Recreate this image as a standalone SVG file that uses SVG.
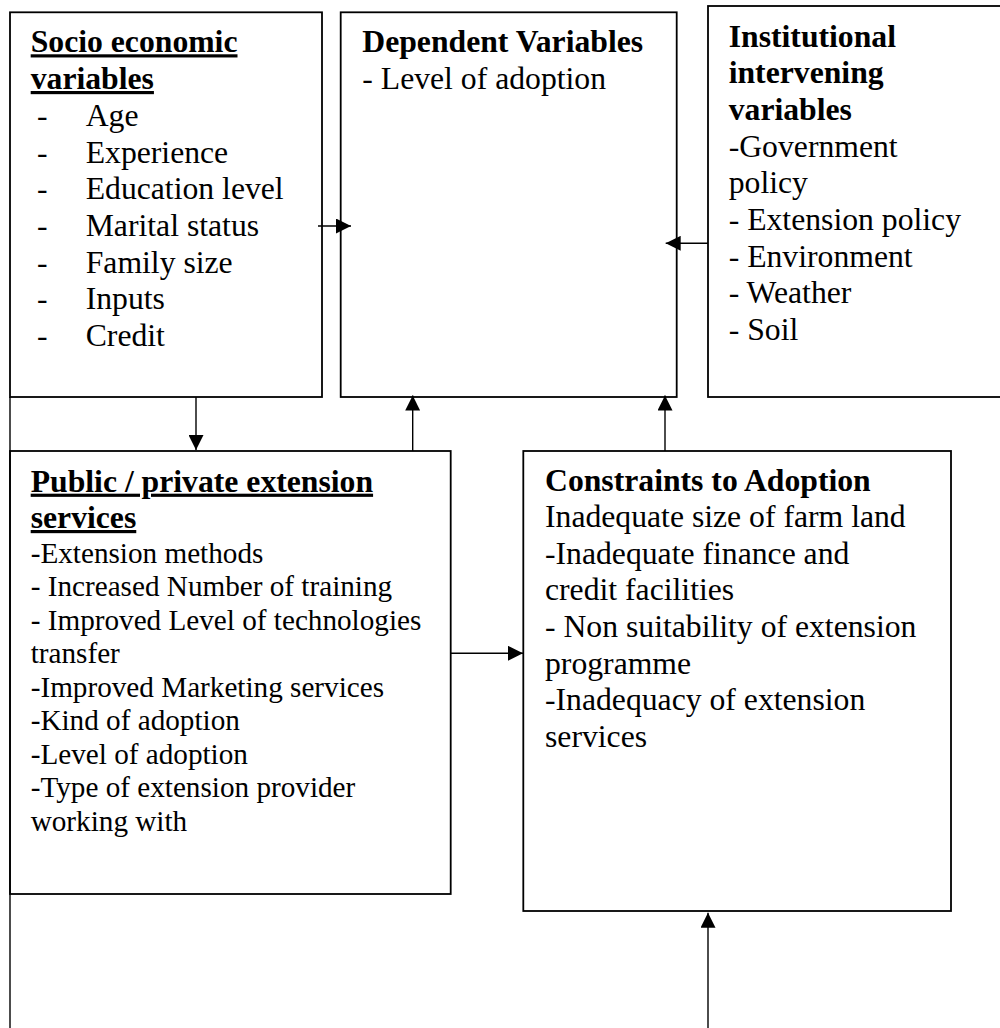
<svg xmlns="http://www.w3.org/2000/svg" width="1000" height="1028" viewBox="0 0 1000 1028">
<style>
.box{fill:#fff;stroke:#000;stroke-width:1.8}
.t{font-family:"Liberation Serif","Times New Roman",serif;font-size:31.7px;fill:#000}
.s{font-size:29.2px}
.b{font-weight:bold}
.u{text-decoration:underline;text-decoration-thickness:3px}
.c{fill:none;stroke:#000;stroke-width:1.4}
.a{marker-end:url(#ah)}
</style>
<defs>
<marker id="ah" viewBox="0 0 16 16" refX="16" refY="8" markerWidth="16" markerHeight="15" markerUnits="userSpaceOnUse" orient="auto">
<path d="M0,0 L16,8 L0,16 Z" fill="#000"/>
</marker>
</defs>
<rect width="1000" height="1028" fill="#fff"/>

<g id="socio">
<rect class="box" x="10" y="12.3" width="312" height="384.7"/>
<text class="t b u" x="30.7" y="52.3">Socio economic</text>
<text class="t b u" x="30.7" y="89">variables</text>
<g class="t">
<text x="37" y="126">-</text><text x="85.7" y="126">Age</text>
<text x="37" y="162.7">-</text><text x="85.7" y="162.7">Experience</text>
<text x="37" y="199.3">-</text><text x="85.7" y="199.3">Education level</text>
<text x="37" y="236">-</text><text x="85.7" y="236">Marital status</text>
<text x="37" y="272.7">-</text><text x="85.7" y="272.7">Family size</text>
<text x="37" y="309.3">-</text><text x="85.7" y="309.3">Inputs</text>
<text x="37" y="346">-</text><text x="85.7" y="346">Credit</text>
</g>
</g>

<g id="dependent">
<rect class="box" x="340.7" y="12.3" width="336" height="384.7"/>
<text class="t b" x="362.3" y="52.3">Dependent Variables</text>
<text class="t" x="362.3" y="89">- Level of adoption</text>
</g>

<g id="institutional">
<rect class="box" x="708" y="6" width="296" height="391"/>
<text class="t b" x="728.7" y="46.7">Institutional</text>
<text class="t b" x="728.7" y="83.3">intervening</text>
<text class="t b" x="728.7" y="120">variables</text>
<text class="t" x="728.7" y="156.7">-Government</text>
<text class="t" x="728.7" y="193.3">policy</text>
<text class="t" x="728.7" y="230">- Extension policy</text>
<text class="t" x="728.7" y="266.7">- Environment</text>
<text class="t" x="728.7" y="303.3">- Weather</text>
<text class="t" x="728.7" y="340">- Soil</text>
</g>

<g id="public">
<rect class="box" x="10" y="451" width="440.7" height="443"/>
<text class="t b u" x="30.7" y="491.7">Public / private extension</text>
<text class="t b u" x="30.7" y="528">services</text>
<g class="t s">
<text x="30.7" y="562.7">-Extension methods</text>
<text x="30.7" y="596.2">- Increased Number of training</text>
<text x="30.7" y="629.7">- Improved Level of technologies</text>
<text x="30.7" y="663.2">transfer</text>
<text x="30.7" y="696.7">-Improved Marketing services</text>
<text x="30.7" y="730.2">-Kind of adoption</text>
<text x="30.7" y="763.7">-Level of adoption</text>
<text x="30.7" y="797.2">-Type of extension provider</text>
<text x="30.7" y="830.7">working with</text>
</g>
</g>

<g id="constraints">
<rect class="box" x="523.3" y="451" width="427.7" height="460"/>
<text class="t b" x="545" y="490.7">Constraints to Adoption</text>
<text class="t" x="545" y="527">Inadequate size of farm land</text>
<text class="t" x="545" y="563.7">-Inadequate finance and</text>
<text class="t" x="545" y="600.3">credit facilities</text>
<text class="t" x="545" y="637">- Non suitability of extension</text>
<text class="t" x="545" y="673.7">programme</text>
<text class="t" x="545" y="710.3">-Inadequacy of extension</text>
<text class="t" x="545" y="747">services</text>
</g>

<g id="connectors">
<path class="c" d="M10,397 L10,1028"/>
<path class="c a" d="M318,226 L351,226"/>
<path class="c a" d="M708,243.3 L665.7,243.3"/>
<path class="c a" d="M196,397 L196,450"/>
<path class="c a" d="M412.7,451 L412.7,395.6"/>
<path class="c a" d="M665,451 L665,395.6"/>
<path class="c a" d="M450.7,653.3 L523,653.3"/>
<path class="c a" d="M708,1028 L708,912.7"/>
</g>
</svg>
